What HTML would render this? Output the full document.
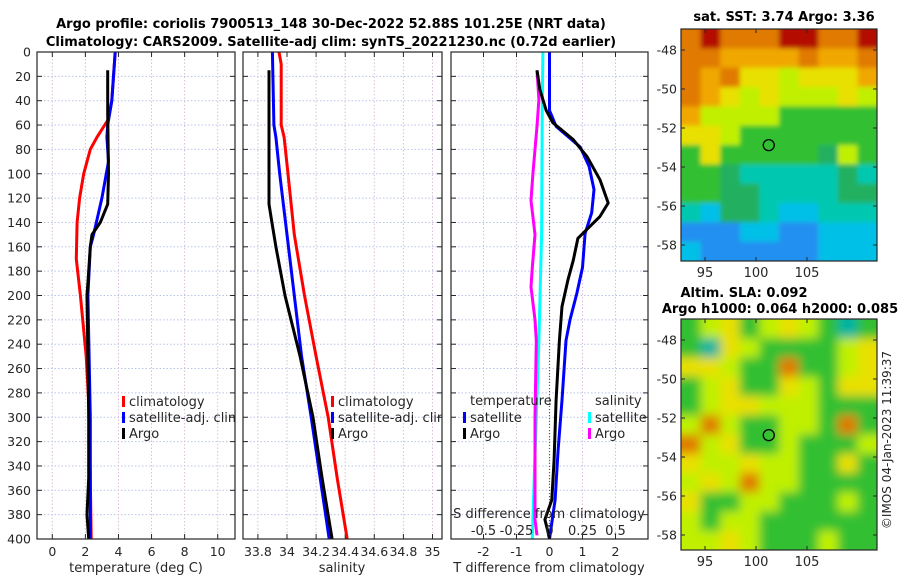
<!DOCTYPE html>
<html><head><meta charset="utf-8">
<style>
html,body{margin:0;padding:0;background:#fff;}
svg{display:block;font-family:"DejaVu Sans","Liberation Sans",sans-serif;}
</style></head>
<body>
<svg id="fig" width="900" height="580" viewBox="0 0 900 580" xmlns="http://www.w3.org/2000/svg">
<defs>
<clipPath id="c1"><rect x="37" y="52" width="198" height="487"/></clipPath>
<clipPath id="c2"><rect x="243" y="52" width="199" height="487"/></clipPath>
<clipPath id="c3"><rect x="451" y="52" width="197" height="487"/></clipPath>
<clipPath id="cm1"><rect x="681" y="29" width="196" height="232"/></clipPath>
<clipPath id="cm2"><rect x="681" y="319" width="196" height="231"/></clipPath>
<filter id="bl" filterUnits="userSpaceOnUse" x="650" y="290" width="250" height="290"><feGaussianBlur stdDeviation="5"/></filter>
<filter id="bl2" filterUnits="userSpaceOnUse" x="650" y="0" width="250" height="290"><feGaussianBlur stdDeviation="2.5"/></filter>
</defs>
<text x="331" y="28" text-anchor="middle" font-size="13" font-weight="bold" fill="#000">Argo profile: coriolis 7900513_148 30-Dec-2022 52.88S 101.25E (NRT data)</text>
<text x="331" y="46" text-anchor="middle" font-size="13" font-weight="bold" fill="#000">Climatology: CARS2009. Satellite-adj clim: synTS_20221230.nc (0.72d earlier)</text>
<text x="784" y="21" text-anchor="middle" font-size="13" font-weight="bold">sat. SST: 3.74 Argo: 3.36</text>
<text x="744" y="297" text-anchor="middle" font-size="13" font-weight="bold">Altim. SLA: 0.092</text>
<text x="780" y="313" text-anchor="middle" font-size="13" font-weight="bold">Argo h1000: 0.064 h2000: 0.085</text>
<text transform="translate(891,440) rotate(-90)" text-anchor="middle" font-size="12" fill="#262626">©IMOS 04-Jan-2023 11:39:37</text>
<g id="root"></g>
</svg>
<script>
// ---- profile data (depth in m) ----
const tArgoDepth = [15,50,100,125,140,150,160,180,200,250,300,350,380,400];
const tArgoVal   = [3.35,3.35,3.4,3.35,2.9,2.4,2.3,2.2,2.1,2.15,2.2,2.2,2.1,2.2];
const tSatDepth  = [0,40,60,70,90,120,150,160,200,300,400];
const tSatVal    = [3.8,3.6,3.35,3.3,3.4,3.0,2.5,2.3,2.15,2.3,2.3];
const tClimDepth = [0,40,55,70,80,100,120,140,170,200,250,300,350,400];
const tClimVal   = [3.8,3.6,3.4,2.7,2.3,1.9,1.65,1.5,1.45,1.7,2.05,2.25,2.3,2.35];

const sArgoDepth = [15,125,140,160,200,250,300,350,400];
const sArgoVal   = [33.876,33.876,33.896,33.924,33.986,34.09,34.179,34.241,34.31];
const sSatDepth  = [0,60,70,100,150,200,250,300,350,400];
const sSatVal    = [33.9,33.91,33.924,33.95,34.0,34.05,34.1,34.166,34.228,34.29];
const sClimDepth = [0,10,60,70,100,150,200,250,300,350,400];
const sClimVal   = [33.945,33.96,33.96,33.98,34.007,34.05,34.12,34.2,34.283,34.345,34.414];

const dTSatDepth = [0,48,61,78,94,113,132,149,177,198,220,237,286,327,368,400];
const dTSatVal   = [0,0,0.2,0.93,1.2,1.35,1.28,1.08,1.0,0.83,0.62,0.5,0.38,0.26,0.17,0];
const dTArgoDepth= [15,31,48,58,72,86,105,124,135,153,171,187,209,237,286,335,368,384,394,400];
const dTArgoVal  = [-0.38,-0.29,-0.1,0.1,0.72,1.14,1.53,1.78,1.53,0.86,0.72,0.56,0.38,0.3,0.2,0.14,0.07,-0.14,-0.05,0];
const dSArgoDepth= [15,39,61,99,122,150,177,193,220,237,300,360,384,397];
const dSArgoVal  = [-0.095,-0.08,-0.095,-0.125,-0.14,-0.11,-0.13,-0.14,-0.11,-0.1,-0.11,-0.11,-0.11,-0.095];
const dSSatDepth = [0,50,150,237,300,380,400];
const dSSatVal   = [-0.05,-0.055,-0.06,-0.08,-0.1,-0.125,-0.13];

const depthTicks = [0,20,40,60,80,100,120,140,160,180,200,220,240,260,280,300,320,340,360,380,400];
const p1Ticks = [0,2,4,6,8,10];
const p2Ticks = [33.8,34,34.2,34.4,34.6,34.8,35];
const p2TickLabels = ["33.8","34","34.2","34.4","34.6","34.8","35"];
const p3Ticks = [-2,-1,0,1,2];
const p3STicks = [-0.5,-0.25,0,0.25,0.5];
const p3STickLabels = ["-0.5","-0.25","0","0.25","0.5"];
const latTicks = [-48,-50,-52,-54,-56,-58];
const lonTicks = [95,100,105];

// map colour images (not chart data)
const pal = {R:"#b40a00",O:"#e07a00",o:"#f0a800",Y:"#e8e000",y:"#c0f000",G:"#30c030",g:"#20b060",C:"#00c8b0",c:"#00c0e8",B:"#2090f0",A:"#00b4a0"};
const sstRows = ["OROOORROOR","OOooooOooO","OoOYYyYYYo","OoYyYyyyYy","oyyyyGGGGG","YYyGGGGGGG","GYGGGGGgyG","GGgCCCCCgC","GGggCCCCgg","CcggCccCCC","BBBccBBccc","cBBBBBBccc"];
const slaRows = ["GyYGyYyGAG","GAYyGGGGyY","YYyGGOGGyY","GyYGGYyGYY","GyYYyyyGGG","yOyGGyyGOG","OyYGGyGGGy","YyyYyyGGYG","yYyOyyGGGG","YGGyyGGGyG","yGyyGGGGGG","yyYyGGGyGG"];

const NS="http://www.w3.org/2000/svg";
const root=document.getElementById('root');
function mk(tag,attrs,parent){const e=document.createElementNS(NS,tag);for(const k in attrs)e.setAttribute(k,attrs[k]);(parent||root).appendChild(e);return e;}

const Y0=52,Y1=539;
function yD(d){return Y0+d*(Y1-Y0)/400;}
function lin(d0,d1,r0,r1){return v=>r0+(v-d0)*(r1-r0)/(d1-d0);}
const x1=lin(0,10,52.3,217.7);
const x2=lin(34,35,287,432.5);
const x3=lin(0,1,549.5,582.5);
const x3s=lin(0,0.25,549.5,582.5);

const panels=[{x0:37,x1:235,clip:'c1',name:'temperature-panel'},{x0:243,x1:442,clip:'c2',name:'salinity-panel'},{x0:451,x1:648,clip:'c3',name:'difference-panel'}];

function drawPanelFrame(p,xs,xticks){
  const g=mk('g',{});
  
  
  mk('rect',{x:p.x0,y:Y0,width:p.x1-p.x0,height:Y1-Y0,fill:'#fff'},g);
  depthTicks.forEach(d=>{
    mk('line',{x1:p.x0,x2:p.x1,y1:yD(d),y2:yD(d),stroke:'#b8c4ea','stroke-width':1,'stroke-dasharray':'1.5,2'},g);
    mk('line',{x1:p.x0,x2:p.x0+5,y1:yD(d),y2:yD(d),stroke:'#262626','stroke-width':1},g);
    mk('line',{x1:p.x1-5,x2:p.x1,y1:yD(d),y2:yD(d),stroke:'#262626','stroke-width':1},g);
  });
  xticks.forEach(t=>{
    const x=xs(t);
    mk('line',{x1:x,x2:x,y1:Y0,y2:Y1,stroke:'#d8c0d8','stroke-width':1,'stroke-dasharray':'1.5,2'},g);
    mk('line',{x1:x,x2:x,y1:Y1,y2:Y1-5,stroke:'#262626','stroke-width':1},g);
    mk('line',{x1:x,x2:x,y1:Y0,y2:Y0+5,stroke:'#262626','stroke-width':1},g);
  });
  return g;
}
function line(xs,vals,depths,color,w,parent,name){
  const pts=vals.map((v,i)=>xs(v).toFixed(1)+','+yD(depths[i]).toFixed(1)).join(' ');
  const pl=mk('polyline',{points:pts,fill:'none',stroke:color,'stroke-width':w,'stroke-linejoin':'round'},parent);
  
  
}
function frameBorder(p){mk('rect',{x:p.x0,y:Y0,width:p.x1-p.x0,height:Y1-Y0,fill:'none',stroke:'#262626','stroke-width':1.2});}
function txt(x,y,s,attrs,name){const t=mk('text',Object.assign({x:x,y:y,'font-size':12,fill:'#262626'},attrs||{}));t.textContent=s;return t;}

// Panel 1
const g1=drawPanelFrame(panels[0],x1,p1Ticks);
const c1=mk('g',{'clip-path':'url(#c1)'},g1);
line(x1,tClimVal,tClimDepth,'#ff0000',3,c1,'temp-climatology-line');
line(x1,tSatVal,tSatDepth,'#0000ff',3,c1,'temp-satellite-line');
line(x1,tArgoVal,tArgoDepth,'#000',3,c1,'temp-argo-line');
// Panel 2
const g2=drawPanelFrame(panels[1],x2,p2Ticks);
const c2=mk('g',{'clip-path':'url(#c2)'},g2);
line(x2,sClimVal,sClimDepth,'#ff0000',3,c2,'sal-climatology-line');
line(x2,sSatVal,sSatDepth,'#0000ff',3,c2,'sal-satellite-line');
line(x2,sArgoVal,sArgoDepth,'#000',3,c2,'sal-argo-line');
// Panel 3
const g3=drawPanelFrame(panels[2],x3,p3Ticks);
const c3=mk('g',{'clip-path':'url(#c3)'},g3);
mk('line',{x1:x3(0),x2:x3(0),y1:Y0,y2:Y1,stroke:'#556b2f','stroke-width':1.2,'stroke-dasharray':'1,2'},c3);
line(x3s,dSSatVal,dSSatDepth,'#00ffff',3,c3,'sdiff-satellite-line');
line(x3s,dSArgoVal,dSArgoDepth,'#ff00ff',3,c3,'sdiff-argo-line');
line(x3,dTSatVal,dTSatDepth,'#0000ff',3,c3,'tdiff-satellite-line');
line(x3,dTArgoVal,dTArgoDepth,'#000',3,c3,'tdiff-argo-line');

// legends
function legend(parent,x,y,label,color,name){
  const g=mk('g',{},parent);
  
  
  mk('rect',{x:x-7,y:y-10,width:3,height:11,fill:color},g);
  const t=mk('text',{x:x,y:y,'font-size':13,fill:'#262626'},g);t.textContent=label;
}
legend(c1,129,406,'climatology','#ff0000','legend-climatology');
legend(c1,129,422,'satellite-adj. clim','#0000ff','legend-satellite');
legend(c1,129,438,'Argo','#000','legend-argo');
legend(c2,338,406,'climatology','#ff0000','legend-climatology-sal');
legend(c2,338,422,'satellite-adj. clim','#0000ff','legend-satellite-sal');
legend(c2,338,438,'Argo','#000','legend-argo-sal');
const lt=mk('text',{x:470,y:405,'font-size':13,fill:'#262626'},c3);lt.textContent='temperature';


legend(c3,470,422,'satellite','#0000ff','legend-t-satellite');
legend(c3,470,438,'Argo','#000','legend-t-argo');
const ls=mk('text',{x:595,y:405,'font-size':13,fill:'#262626'},c3);ls.textContent='salinity';


legend(c3,595,422,'satellite','#00ffff','legend-s-satellite');
legend(c3,595,438,'Argo','#ff00ff','legend-s-argo');
txt(549,518,'S difference from climatology',{'text-anchor':'middle','font-size':13},'s-axis-title');
p3STicks.forEach((t,i)=>txt(x3s(t),535,p3STickLabels[i],{'text-anchor':'middle','font-size':13},'s-tick-label'));
panels.forEach(frameBorder);

// axis labels
depthTicks.forEach(d=>txt(31,yD(d)+4.5,String(d),{'text-anchor':'end','font-size':12.5},'depth-tick-label'));
p1Ticks.forEach(t=>txt(x1(t),556,String(t),{'text-anchor':'middle','font-size':12.5},'temp-tick-label'));
p2Ticks.forEach((t,i)=>txt(x2(t),556,p2TickLabels[i],{'text-anchor':'middle','font-size':12.5},'sal-tick-label'));
p3Ticks.forEach(t=>txt(x3(t),556,String(t),{'text-anchor':'middle','font-size':12.5},'tdiff-tick-label'));
txt(136,572,'temperature (deg C)',{'text-anchor':'middle','font-size':13},'temp-axis-title');
txt(342,572,'salinity',{'text-anchor':'middle','font-size':13},'sal-axis-title');
txt(549,572,'T difference from climatology',{'text-anchor':'middle','font-size':13},'tdiff-axis-title');

// maps
function drawMap(rows,x0,y0,w,h,clip,name,filt,latY0){
  const g=mk('g',{'clip-path':'url(#'+clip+')'});
  
  
  const inner=mk('g',{filter:'url(#'+filt+')'},g);
  const nr=rows.length,nc=rows[0].length,cw=w/nc,ch=h/nr,pad=10;
  rows.forEach((r,i)=>{for(let j=0;j<nc;j++){
    const xa=x0+j*cw-(j==0?pad:0), ya=y0+i*ch-(i==0?pad:0);
    const wa=cw+0.6+(j==0?pad:0)+(j==nc-1?pad:0), ha=ch+0.6+(i==0?pad:0)+(i==nr-1?pad:0);
    mk('rect',{x:xa,y:ya,width:wa,height:ha,fill:pal[r[j]]},inner);
  }});
  mk('rect',{x:x0,y:y0,width:w,height:h,fill:'none',stroke:'#262626','stroke-width':1.2});
  const lonS=lin(95,105,705,807);
  const latS=lin(-48,-58,latY0,latY0+195);
  latTicks.forEach(l=>{
    const y=latS(l);
    mk('line',{x1:x0,x2:x0+4,y1:y,y2:y,stroke:'#262626'});
    mk('line',{x1:x0+w-4,x2:x0+w,y1:y,y2:y,stroke:'#262626'});
    txt(x0-4,y+4.5,String(l),{'text-anchor':'end','font-size':12.5},'lat-tick-label');
  });
  lonTicks.forEach(l=>{
    const x=lonS(l);
    mk('line',{x1:x,x2:x,y1:y0+h,y2:y0+h-4,stroke:'#262626'});
    mk('line',{x1:x,x2:x,y1:y0,y2:y0+4,stroke:'#262626'});
    txt(x,y0+h+16,String(l),{'text-anchor':'middle','font-size':13},'lon-tick-label');
  });
  const c=mk('circle',{cx:lonS(101.25),cy:latS(-52.88),r:5.5,fill:'none',stroke:'#000','stroke-width':1.3});
  
  
}
drawMap(sstRows,681,29,196,232,'cm1','sst-map','bl2',50);
drawMap(slaRows,681,319,196,231,'cm2','sla-map','bl',340);
</script>
</body></html>
